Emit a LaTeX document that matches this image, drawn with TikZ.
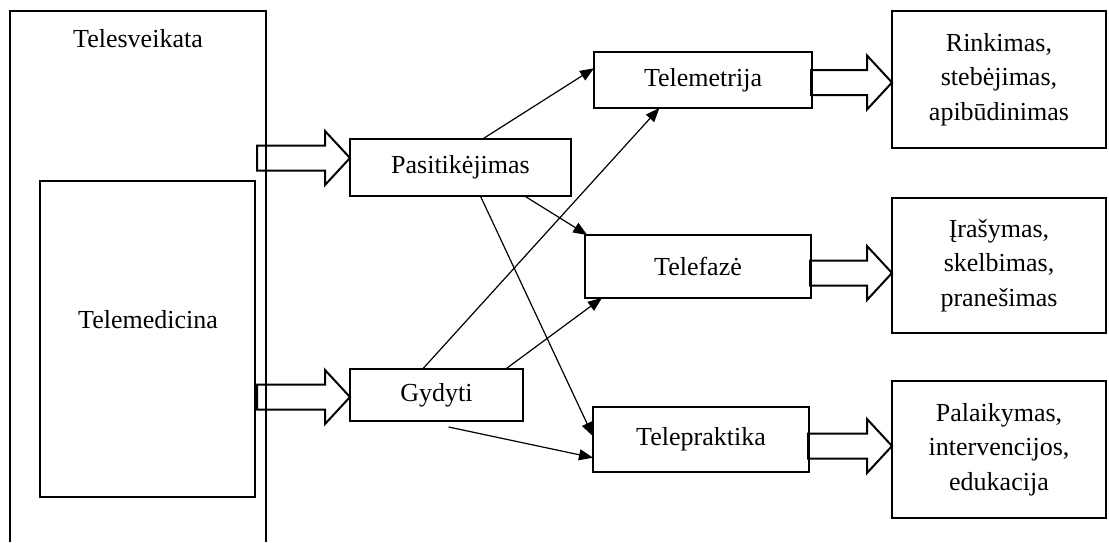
\documentclass[tikz,border=0pt]{standalone}
\usepackage{fontspec}
\setmainfont{Liberation Serif}
\usetikzlibrary{calc,arrows.meta}
\newcommand\fsz{\fontsize{26}{34.5}\selectfont}
% block arrow: #1 tip coordinate, #2 total length (pointing right)
\newcommand\blockarr[2]{\draw[barrow] (#1) -- ++(-25,-27) -- ++(0,14.5) -- ++(-#2+25,0) -- ++(0,25) -- ++(#2-25,0) -- ++(0,14.5) -- cycle;}
\begin{document}
\begin{tikzpicture}[x=1pt,y=-1pt,
  box/.style={draw, line width=2.5pt, inner sep=0pt, outer sep=0pt, font=\fsz, align=center},
  lbl/.style={font=\fsz, inner sep=0pt},
  conn/.style={line width=1.2pt, -{Triangle[length=14pt,width=11pt]}},
  barrow/.style={line width=2pt, line join=miter}]
\useasboundingbox (0,0) rectangle (1109,542);
% outer frame (bottom edge cut off)
\draw[line width=2.5pt] (10,542) -- (10,11) -- (266,11) -- (266,542);
\node[lbl, anchor=base] (tsv) at (138,47) {Telesveikata};
\node[box, minimum width=215pt, minimum height=316pt] (tmed) at (147.5,339) {};
\node[lbl] (tmedl) at (148,320) {Telemedicina};
% middle boxes
\node[box, minimum width=221pt, minimum height=57pt] (pas) at (460.5,167.5) {Pasitikėjimas};
\node[box, minimum width=173pt, minimum height=52pt] (gy) at (436.5,395) {Gydyti};
\node[box, minimum width=218pt, minimum height=56pt] (tm) at (703,80) {Telemetrija};
\node[box, minimum width=226pt, minimum height=63pt] (tf) at (698,266.5) {Telefazė};
\node[box, minimum width=216pt, minimum height=65pt] (tp) at (701,439.5) {Telepraktika};
% right boxes
\node[box, minimum width=214pt, minimum height=137pt] (r1) at (999,79.5) {Rinkimas,\\stebėjimas,\\apibūdinimas};
\node[box, minimum width=214pt, minimum height=135pt] (r2) at (999,265.5) {Įrašymas,\\skelbimas,\\pranešimas};
\node[box, minimum width=214pt, minimum height=137pt] (r3) at (999,449.5) {Palaikymas,\\intervencijos,\\edukacija};
% block arrows
\coordinate (a1) at ($(pas.west)+(0,-9.5)$);
\coordinate (a2) at ($(gy.west)+(0,2)$);
\coordinate (a3) at ($(r1.west)+(0,3)$);
\coordinate (a4) at ($(r2.west)+(0,7.5)$);
\coordinate (a5) at ($(r3.west)+(0,-3.5)$);
\blockarr{a1}{93}
\blockarr{a2}{93}
\blockarr{a3}{81}
\blockarr{a4}{82}
\blockarr{a5}{84}
% connectors
\draw[conn] ($(pas.north west)!0.6!(pas.north east)$) -- ($(tm.north west)!0.29!(tm.south west)$);
\draw[conn] ($(gy.north west)!0.42!(gy.north east)$) -- ($(tm.south west)!0.3!(tm.south east)$);
\draw[conn] ($(pas.south west)!0.79!(pas.south east)$) -- ($(tf.north west)!0.01!(tf.north east)$);
\draw[conn] ($(pas.south west)!0.59!(pas.south east)$) -- ($(tp.north west)!0.45!(tp.south west)$);
\draw[conn] ($(gy.south west)!0.57!(gy.south east)+(0,6)$) -- ($(tp.north west)!0.78!(tp.south west)$);
\draw[conn] ($(gy.north west)!0.9!(gy.north east)$) -- ($(tf.south west)!0.075!(tf.south east)$);
\end{tikzpicture}
\end{document}
